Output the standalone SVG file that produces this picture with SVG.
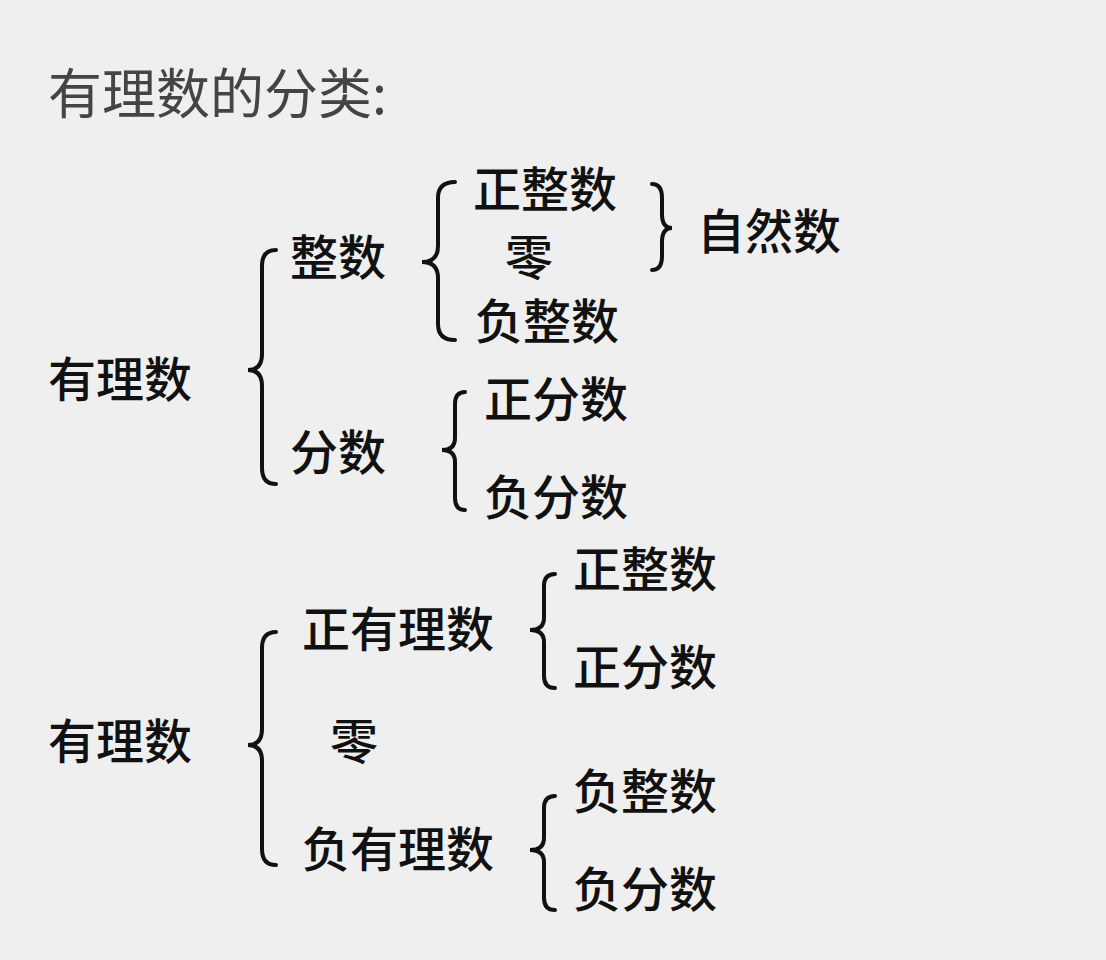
<svg xmlns="http://www.w3.org/2000/svg" width="1106" height="960" viewBox="0 0 1106 960">
<style>
text{font-family:"Noto Sans CJK SC",sans-serif;font-size:48px;font-weight:500;fill:#111}
.t{font-size:54px;font-weight:400;fill:#444}
.b{fill:none;stroke:#111;stroke-width:4;stroke-linecap:round}
</style>
<rect width="1106" height="960" fill="#efefef"/>
<text class="t" x="48" y="114">有理数的分类:</text>
<g id="connectors">
<path class="b" d="M276 250 Q262 250 262 266 L262 354 Q262 370 248 370 Q262 370 262 386 L262 468 Q262 484 276 484"/>
<path class="b" d="M455 182 Q438 182 438 198 L438 246 Q438 262 422 262 Q438 262 438 278 L438 324 Q438 340 455 340"/>
<path class="b" d="M652 184 Q662 184 662 198 L662 214 Q662 228 672 228 Q662 228 662 242 L662 256 Q662 270 652 270"/>
<path class="b" d="M465 392 Q455 392 455 404 L455 438 Q455 450 442 450 Q455 450 455 462 L455 498 Q455 510 465 510"/>
<path class="b" d="M276 632 Q262 632 262 648 L262 729 Q262 745 248 745 Q262 745 262 761 L262 849 Q262 865 276 865"/>
<path class="b" d="M555 574 Q544 574 544 586 L544 618 Q544 630 530 630 Q544 630 544 642 L544 676 Q544 688 555 688"/>
<path class="b" d="M555 796 Q544 796 544 808 L544 838 Q544 850 530 850 Q544 850 544 862 L544 898 Q544 910 555 910"/>
</g>
<g id="n1"><text x="48" y="397">有理数</text></g>
<g id="n2"><text x="290" y="275">整数</text></g>
<g id="n3"><text x="473" y="207">正整数</text></g>
<g id="n4"><text x="505" y="275">零</text></g>
<g id="n5"><text x="475" y="339">负整数</text></g>
<g id="n6"><text x="697" y="249">自然数</text></g>
<g id="n7"><text x="290" y="470">分数</text></g>
<g id="n8"><text x="484" y="417">正分数</text></g>
<g id="n9"><text x="484" y="515">负分数</text></g>
<g id="m1"><text x="48" y="759">有理数</text></g>
<g id="m2"><text x="302" y="647">正有理数</text></g>
<g id="m3"><text x="330" y="759">零</text></g>
<g id="m4"><text x="302" y="867">负有理数</text></g>
<g id="m5"><text x="573" y="587">正整数</text></g>
<g id="m6"><text x="573" y="685">正分数</text></g>
<g id="m7"><text x="573" y="809">负整数</text></g>
<g id="m8"><text x="573" y="907">负分数</text></g>
</svg>
